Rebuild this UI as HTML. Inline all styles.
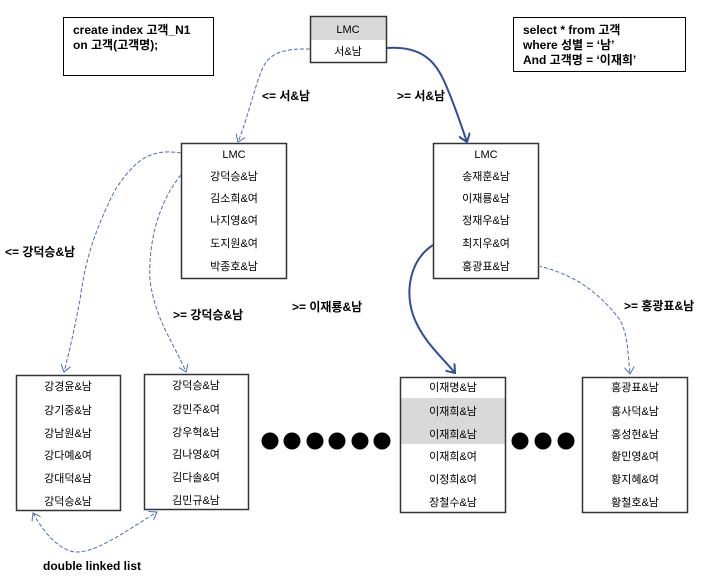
<!DOCTYPE html>
<html><head><meta charset="utf-8"><style>
body{margin:0;background:#fff;}
svg{display:block;font-family:"Liberation Sans","Noto Sans CJK KR",sans-serif;}
.t{font-size:11px;fill:#000;text-anchor:middle;}
.b{font-size:12px;font-weight:bold;fill:#000;}
</style></head><body>
<svg width="706" height="585" viewBox="0 0 706 585" xmlns="http://www.w3.org/2000/svg">
<defs>
<marker id="a" markerWidth="10" markerHeight="10" refX="9" refY="5" orient="auto-start-reverse" markerUnits="userSpaceOnUse"><path d="M2,0 L9,5 L2,10" fill="none" stroke="#4a6fb5" stroke-width="1"/></marker>
<marker id="as" markerWidth="12" markerHeight="12" refX="10" refY="6" orient="auto" markerUnits="userSpaceOnUse"><path d="M2,0 L10,6 L2,12" fill="none" stroke="#2f4f9a" stroke-width="2"/></marker>
</defs>
<!-- code boxes -->
<rect x="63.5" y="17.5" width="150" height="58" fill="#fff" stroke="#000"/>
<text class="b" x="73" y="34">create index 고객_N1</text>
<text class="b" x="73" y="49">on 고객(고객명);</text>
<rect x="513.5" y="17.5" width="172" height="54" fill="#fff" stroke="#000"/>
<text class="b" x="523" y="34">select * from 고객</text>
<text class="b" x="523" y="49">where 성별 = ‘남’</text>
<text class="b" x="523" y="64">And 고객명 = ‘이재희’</text>
<!-- root -->
<rect x="311" y="17" width="75" height="23" fill="#d9d9d9"/>
<rect x="310.5" y="16.5" width="76" height="46" fill="none" stroke="#333" stroke-width="1.5"/>
<text class="t" x="348" y="33">LMC</text>
<text class="t" x="348" y="55">서&amp;남</text>
<!-- L2 boxes -->
<rect x="181.5" y="143.5" width="105" height="135" fill="#fff" stroke="#333" stroke-width="1.5"/>
<text class="t" x="234" y="158">LMC</text>
<text class="t" x="234" y="180">강덕승&amp;남</text>
<text class="t" x="234" y="202">김소희&amp;여</text>
<text class="t" x="234" y="224">나지영&amp;여</text>
<text class="t" x="234" y="247">도지원&amp;여</text>
<text class="t" x="234" y="270">박종호&amp;남</text>
<rect x="433.5" y="143.5" width="105" height="135" fill="#fff" stroke="#333" stroke-width="1.5"/>
<text class="t" x="486" y="158">LMC</text>
<text class="t" x="486" y="180">송재훈&amp;남</text>
<text class="t" x="486" y="202">이재룡&amp;남</text>
<text class="t" x="486" y="224">정재우&amp;남</text>
<text class="t" x="486" y="247">최지우&amp;여</text>
<text class="t" x="486" y="270">홍광표&amp;남</text>
<!-- leaves -->
<rect x="16.5" y="375.5" width="104" height="135" fill="#fff" stroke="#333" stroke-width="1.5"/>
<text class="t" x="68" y="390">강경윤&amp;남</text>
<text class="t" x="68" y="414">강기중&amp;남</text>
<text class="t" x="68" y="437">강남원&amp;남</text>
<text class="t" x="68" y="459">강다예&amp;여</text>
<text class="t" x="68" y="482">강대덕&amp;남</text>
<text class="t" x="68" y="505">강덕승&amp;남</text>
<rect x="144.5" y="374.5" width="104" height="135" fill="#fff" stroke="#333" stroke-width="1.5"/>
<text class="t" x="196" y="389">강덕승&amp;남</text>
<text class="t" x="196" y="413">강민주&amp;여</text>
<text class="t" x="196" y="436">강우혁&amp;남</text>
<text class="t" x="196" y="458">김나영&amp;여</text>
<text class="t" x="196" y="481">김다솔&amp;여</text>
<text class="t" x="196" y="504">김민규&amp;남</text>
<rect x="401" y="398" width="104" height="46" fill="#d9d9d9"/>
<rect x="400.5" y="377.5" width="105" height="135" fill="none" stroke="#333" stroke-width="1.5"/>
<text class="t" x="453" y="391">이재명&amp;남</text>
<text class="t" x="453" y="415">이재희&amp;남</text>
<text class="t" x="453" y="438">이재희&amp;남</text>
<text class="t" x="453" y="460">이재희&amp;여</text>
<text class="t" x="453" y="483">이정희&amp;여</text>
<text class="t" x="453" y="506">장철수&amp;남</text>
<rect x="582.5" y="377.5" width="105" height="135" fill="#fff" stroke="#333" stroke-width="1.5"/>
<text class="t" x="635" y="391">홍광표&amp;남</text>
<text class="t" x="635" y="415">홍사덕&amp;남</text>
<text class="t" x="635" y="438">홍성현&amp;남</text>
<text class="t" x="635" y="460">황민영&amp;여</text>
<text class="t" x="635" y="483">황지혜&amp;여</text>
<text class="t" x="635" y="506">황철호&amp;남</text>
<!-- dots -->
<g fill="#000">
<circle cx="270" cy="441" r="8.5"/><circle cx="292" cy="441" r="8.5"/><circle cx="315" cy="441" r="8.5"/>
<circle cx="337" cy="441" r="8.5"/><circle cx="360" cy="441" r="8.5"/><circle cx="382" cy="441" r="8.5"/>
<circle cx="520" cy="441" r="8.5"/><circle cx="543" cy="441" r="8.5"/><circle cx="566" cy="441" r="8.5"/>
</g>
<!-- labels -->
<text class="b" x="262" y="100">&lt;= 서&amp;남</text>
<text class="b" x="397" y="100">&gt;= 서&amp;남</text>
<text class="b" x="5" y="256">&lt;= 강덕승&amp;남</text>
<text class="b" x="173" y="319">&gt;= 강덕승&amp;남</text>
<text class="b" x="292" y="311">&gt;= 이재룡&amp;남</text>
<text class="b" x="624" y="310">&gt;= 홍광표&amp;남</text>
<text class="b" x="43" y="570">double linked list</text>
<!-- connectors -->
<g fill="none" stroke="#4a6fb5" stroke-width="1" stroke-dasharray="4,2">
<path d="M310,49 C270,48 265,60 258,80 C250,105 245,125 238,142" marker-end="url(#a)"/>
<path d="M181,153 C150,148 135,160 115,190 C95,230 85,260 80,300 C74,330 70,350 64,372" marker-end="url(#a)"/>
<path d="M181,175 C160,200 148,240 150,280 C155,320 175,345 186,372" marker-end="url(#a)"/>
<path d="M538,266 C580,275 605,300 620,320 C628,335 628,355 630,374" marker-end="url(#a)"/>
<path d="M33,513 C45,535 60,550 75,552 C95,553 120,535 157,512" marker-start="url(#a)" marker-end="url(#a)"/>
</g>
<g fill="none" stroke="#2f4f9a" stroke-width="2">
<path d="M387,48 C430,45 440,70 450,95 C458,115 462,128 467,142" marker-end="url(#as)"/>
<path d="M433,245 C410,260 405,290 413,315 C422,340 440,355 455,373" marker-end="url(#as)"/>
</g>
</svg>
</body></html>
